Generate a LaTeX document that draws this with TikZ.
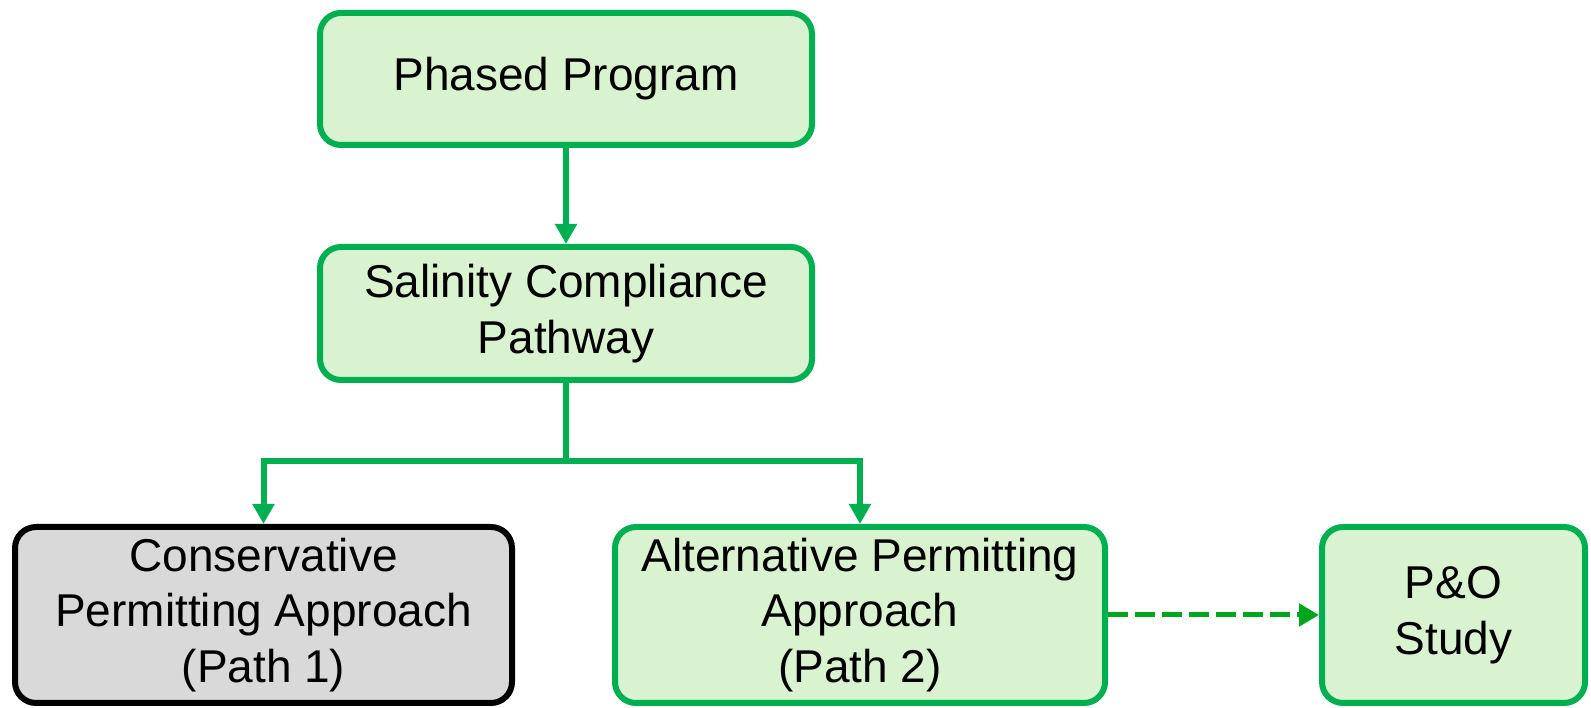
\documentclass[tikz,border=0pt]{standalone}
\usepackage{fontspec}
\setmainfont{Liberation Sans}
\usetikzlibrary{arrows.meta}
\definecolor{bgreen}{RGB}{0,176,80}
\definecolor{lgreen}{RGB}{217,242,208}
\definecolor{lgray}{RGB}{217,217,217}
\definecolor{dgreen}{RGB}{0,165,30}
\tikzset{
  box/.style={draw=bgreen, fill=lgreen, line width=6pt, rounded corners=21pt,
    align=center, inner sep=0pt, text=black,
    font=\fontsize{46}{55.5}\selectfont},
  graybox/.style={box, draw=black, fill=lgray},
  conn/.style={draw=bgreen, line width=6pt},
  connarrow/.style={conn, -{Triangle[width=21pt,length=20pt]}},
  dashconn/.style={draw=dgreen, line width=5pt, dash pattern=on 20pt off 7pt,
    -{Triangle[width=22pt,length=20pt]}}
}
\begin{document}
\begin{tikzpicture}[x=1pt,y=1pt]
\useasboundingbox (0,0) rectangle (1591,708);
\node[box, minimum width=492pt, minimum height=132pt] (pp) at (566,629) {Phased Program};
\node[box, minimum width=492pt, minimum height=133pt] (sc) at (566,394.5) {Salinity Compliance\\Pathway};
\node[graybox, minimum width=497pt, minimum height=176pt] (cp) at (263.5,93) {Conservative\\Permitting Approach\\(Path 1)};
\node[box, minimum width=490pt, minimum height=176pt] (ap) at (860,93) {Alternative Permitting\\Approach\\(Path 2)};
\node[box, minimum width=263pt, minimum height=176pt] (po) at (1453.5,93) {P\&O\\Study};
\coordinate (j) at (566,247);
\draw[connarrow] (pp.south) -- (sc.north);
\draw[conn] (sc.south) -- (j);
\draw[connarrow] (j) -| (cp.north);
\draw[connarrow] (j) -| (ap.north);
\draw[dashconn] (ap.east) -- (po.west);
\end{tikzpicture}
\end{document}
